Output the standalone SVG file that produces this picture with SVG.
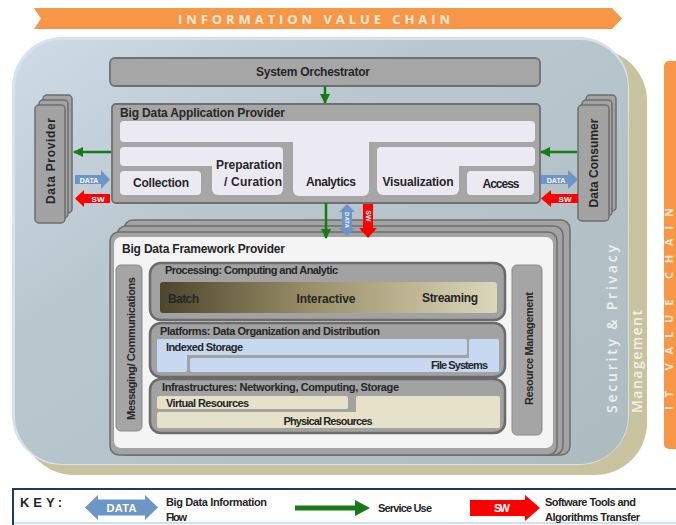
<svg xmlns="http://www.w3.org/2000/svg" width="676" height="525" viewBox="0 0 676 525">
<style>
.t{font-family:"Liberation Sans",Arial,sans-serif;font-weight:bold;fill:#262626;font-size:12px}
.s{font-size:11px}
.w{fill:#ffffff}
.lt{font-family:"Open Sans","Liberation Sans",sans-serif;font-weight:600;font-size:14px;fill:#edf1f3}
.box{fill:#a6a6a6;stroke:#707070;stroke-width:1.8}
.stk{fill:#a3a3a3;stroke:#6e6e6e;stroke-width:1.5}
.lav{fill:#ebe9f2}
.sub{fill:#a2a2a2;stroke:#6b6b6b;stroke-width:2.5}
.blue{fill:#c6d9f0}
.tan{fill:#e6e1c9}
.g{stroke:#167a16;stroke-width:2.5;fill:none}
.da{fill:#6c95c8}
.sw{fill:#ff0000}
</style>
<defs>
<linearGradient id="bg" x1="0" y1="0" x2="1" y2="1">
<stop offset="0" stop-color="#cfdbe6"/>
<stop offset="0.35" stop-color="#b9c7cf"/>
<stop offset="1" stop-color="#aebcc0"/>
</linearGradient>
<linearGradient id="proc" x1="0" y1="0" x2="1" y2="0">
<stop offset="0" stop-color="#4e452d"/>
<stop offset="0.45" stop-color="#9a8f68"/>
<stop offset="1" stop-color="#dcd7bb"/>
</linearGradient>
<marker id="gh" markerUnits="userSpaceOnUse" markerWidth="10" markerHeight="10" refX="9" refY="5" orient="auto">
<path d="M0,0 L10,5 L0,10 z" fill="#167a16"/>
</marker>
</defs>

<rect width="676" height="525" fill="#ffffff"/>

<g id="info-value-chain">
<polygon points="34,8 612,8 622,18.5 612,29 34,29 41,18.5" fill="#f79646"/>
<text class="lt" x="314" y="24" text-anchor="middle" textLength="272" style="font-size:13px;font-weight:bold;fill:#fdeada">INFORMATION VALUE CHAIN</text>
</g>

<g id="it-value-chain">
<rect x="664" y="61" width="30" height="388" rx="5" fill="#f79646"/>
<text class="lt" x="673" y="309" text-anchor="middle" textLength="202" transform="rotate(-90 673 309)" style="font-size:11px;font-weight:bold;fill:#fdeada">IT VALUE CHAIN</text>
</g>

<g id="management">
<rect x="22" y="49" width="625" height="426" rx="52" fill="#c8c29f"/>
</g>

<g id="security-privacy">
<rect x="12" y="37" width="617" height="428" rx="50" fill="#d6e2ec"/>
<rect x="15" y="40" width="613" height="424" rx="48" fill="url(#bg)"/>
<text class="lt" x="617" y="329" text-anchor="middle" textLength="168" transform="rotate(-90 617 329)">Security &amp; Privacy</text>
</g>
<text id="management-label" class="lt" x="642" y="361.5" text-anchor="middle" textLength="103" transform="rotate(-90 642 361.5)" style="fill:#f2f1e6">Management</text>

<g id="system-orchestrator">
<rect class="box" x="110" y="58" width="430" height="28" rx="5"/>
<text class="t" x="313" y="76" text-anchor="middle" textLength="114">System Orchestrator</text>
</g>

<g id="app-provider">
<rect class="box" x="112" y="104" width="428" height="99" rx="4"/>
<text class="t" x="120" y="117" textLength="165">Big Data Application Provider</text>
<rect class="lav" x="120" y="121" width="415" height="21" rx="4"/>
<rect class="lav" x="293" y="121" width="76" height="75" rx="6"/>
<text class="t" x="331" y="186" text-anchor="middle" textLength="50">Analytics</text>
<rect class="lav" x="120" y="147" width="163" height="19" rx="4"/>
<rect class="lav" x="212" y="147" width="71" height="48" rx="6"/>
<text class="t" x="282" y="169" text-anchor="end" textLength="66">Preparation</text>
<text class="t" x="282" y="186" text-anchor="end" textLength="58">/ Curation</text>
<rect class="lav" x="120" y="171" width="81" height="24" rx="4"/>
<text class="t" x="161" y="187" text-anchor="middle" textLength="56">Collection</text>
<rect class="lav" x="377" y="147" width="158" height="19" rx="4"/>
<rect class="lav" x="377" y="147" width="82" height="48" rx="6"/>
<text class="t" x="418" y="186" text-anchor="middle" textLength="71">Visualization</text>
<rect class="lav" x="467" y="171" width="67" height="24" rx="4"/>
<text class="t" x="501" y="188" text-anchor="middle" textLength="37">Access</text>
</g>

<g id="data-provider">
<rect class="stk" x="43" y="95" width="29" height="118" rx="4"/>
<rect class="stk" x="39" y="100" width="29" height="118" rx="4"/>
<rect class="stk" x="35" y="105" width="30" height="118" rx="4"/>
<text class="t" x="55" y="161" text-anchor="middle" textLength="86" transform="rotate(-90 55 161)">Data Provider</text>
</g>

<g id="data-consumer">
<rect class="stk" x="586" y="95" width="30" height="116" rx="4"/>
<rect class="stk" x="582" y="100" width="30" height="116" rx="4"/>
<rect class="stk" x="578" y="105" width="31" height="116" rx="4"/>
<text class="t" x="598" y="163" text-anchor="middle" textLength="89" transform="rotate(-90 598 163)">Data Consumer</text>
</g>

<g id="framework-provider">
<rect class="stk" x="124" y="220" width="446" height="235" rx="9"/>
<rect class="stk" x="117" y="226" width="446" height="229" rx="9"/>
<rect class="stk" x="110" y="232" width="447" height="223" rx="9"/>
<rect x="114" y="237" width="439" height="211" rx="7" fill="#f4f4f5"/>
<text class="t" x="122" y="253" textLength="163">Big Data Framework Provider</text>
</g>

<g id="messaging">
<rect x="116" y="265" width="26" height="166" rx="5" fill="#a5a5a5" stroke="#8a8a8a"/>
<text class="t s" x="135" y="348.5" text-anchor="middle" textLength="143" transform="rotate(-90 135 348.5)">Messaging/ Communications</text>
</g>

<g id="resource-management">
<rect x="512" y="265" width="30" height="170" rx="5" fill="#a5a5a5" stroke="#8a8a8a"/>
<text class="t s" x="533" y="348.5" text-anchor="middle" textLength="113" transform="rotate(-90 533 348.5)">Resource Management</text>
</g>

<g id="processing">
<rect class="sub" x="150" y="263" width="355" height="57" rx="11"/>
<text class="t s" x="165" y="274" textLength="173">Processing: Computing and Analytic</text>
<rect x="160" y="282" width="337" height="31" rx="3" fill="url(#proc)"/>
<text class="t" x="168" y="303" textLength="31">Batch</text>
<text class="t" x="326" y="303" text-anchor="middle" textLength="59">Interactive</text>
<text class="t" x="478" y="302" text-anchor="end" textLength="56">Streaming</text>
</g>

<g id="platforms">
<rect class="sub" x="150" y="323" width="355" height="54" rx="11"/>
<text class="t s" x="160" y="335" textLength="220">Platforms: Data Organization and Distribution</text>
<rect class="blue" x="157" y="339" width="310" height="16" rx="2"/>
<rect class="blue" x="157" y="339" width="30" height="33" rx="2"/>
<text class="t s" x="166" y="351" textLength="77">Indexed Storage</text>
<rect class="blue" x="190" y="358" width="309" height="14" rx="2"/>
<rect class="blue" x="469" y="339" width="30" height="33" rx="2"/>
<text class="t s" x="488" y="369" text-anchor="end" textLength="57">File Systems</text>
</g>

<g id="infrastructures">
<rect class="sub" x="150" y="379" width="355" height="54" rx="11"/>
<text class="t s" x="162" y="391" textLength="237">Infrastructures: Networking, Computing, Storage</text>
<rect class="tan" x="157" y="396" width="191" height="13" rx="2"/>
<text class="t s" x="166" y="407" textLength="83">Virtual Resources</text>
<rect class="tan" x="157" y="412" width="343" height="16" rx="2"/>
<rect class="tan" x="356" y="396" width="144" height="32" rx="2"/>
<text class="t s" x="328" y="425" text-anchor="middle" textLength="89">Physical Resources</text>
</g>

<g id="connectors">
<line class="g" x1="325" y1="86" x2="325" y2="103" marker-end="url(#gh)"/>
<line class="g" x1="111" y1="152" x2="74" y2="152" marker-end="url(#gh)"/>
<line class="g" x1="577" y1="152" x2="541" y2="152" marker-end="url(#gh)"/>
<line class="g" x1="326" y1="203" x2="326" y2="238" marker-end="url(#gh)"/>
<polygon class="da" points="75,175 101,175 101,170 110,179.5 101,189 101,184 75,184"/>
<text class="t w" x="89" y="182.5" text-anchor="middle" style="font-size:7px">DATA</text>
<polygon class="sw" points="110,194 84,194 84,190 75,198.5 84,207 84,203 110,203"/>
<text class="t w" x="98" y="201.5" text-anchor="middle" style="font-size:8px">SW</text>
<polygon class="da" points="541,175 568,175 568,170 578,179.5 568,189 568,184 541,184"/>
<text class="t w" x="556" y="182.5" text-anchor="middle" style="font-size:7px">DATA</text>
<polygon class="sw" points="578,194 551,194 551,190 541,198.5 551,207 551,203 578,203"/>
<text class="t w" x="565" y="201.5" text-anchor="middle" style="font-size:8px">SW</text>
<polygon class="da" points="347,204 355,212 352,212 352,228 355,228 347,236 339,228 342,228 342,212 339,212"/>
<text class="t w" x="347" y="220" text-anchor="middle" dominant-baseline="central" transform="rotate(90 347 220)" style="font-size:6px">DATA</text>
<polygon class="sw" points="363,204 373,204 373,228 377,228 368,238 359,228 363,228"/>
<text class="t w" x="368" y="216" text-anchor="middle" dominant-baseline="central" transform="rotate(90 368 216)" style="font-size:7px">SW</text>
</g>

<g id="key">
<rect x="13" y="489" width="680" height="50" fill="#ffffff" stroke="#1f3b63" stroke-width="2"/>
<line x1="14" y1="523" x2="676" y2="523" stroke="#bdd7ee" stroke-width="1.5"/>
<text class="t" x="20" y="507" textLength="42" style="font-size:13px">KEY:</text>
<polygon class="da" points="85,507.5 98,495 98,499.5 145,499.5 145,495 158,507.5 145,520 145,515.5 98,515.5 98,520"/>
<text class="t w" x="121.5" y="512" text-anchor="middle" textLength="30" style="font-size:11px">DATA</text>
<text class="t s" x="166" y="506" textLength="101">Big Data Information</text>
<text class="t s" x="166" y="521" textLength="21">Flow</text>
<line x1="295" y1="508" x2="358" y2="508" stroke="#167a16" stroke-width="5"/>
<polygon points="355,500 370,508 355,516" fill="#167a16"/>
<text class="t s" x="378" y="512" textLength="54">Service Use</text>
<polygon class="sw" points="470,500 525,500 525,495 540,508 525,521 525,516 470,516"/>
<text class="t w" x="502" y="512" text-anchor="middle" textLength="16" style="font-size:11px">SW</text>
<text class="t s" x="545" y="506" textLength="91">Software Tools and</text>
<text class="t s" x="545" y="521" textLength="95">Algorithms Transfer</text>
</g>
</svg>
